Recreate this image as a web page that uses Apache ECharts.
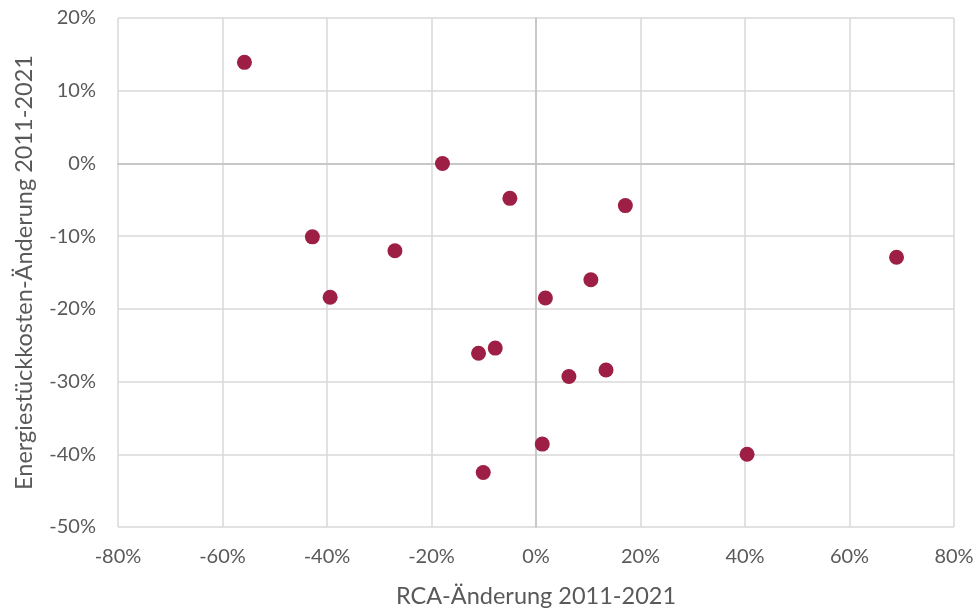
<!DOCTYPE html>
<html>
<head>
<meta charset="utf-8">
<script src="https://cdn.jsdelivr.net/npm/echarts@6/dist/echarts.min.js"></script>
<style>
  html, body { margin: 0; padding: 0; background: #fff; }
  #chart { width: 980px; height: 613px; }
</style>
</head>
<body>
<div id="chart"></div>
<script>
// RCA change 2011-2021 (x, %) vs. energy unit cost change 2011-2021 (y, %)
const rcaChange = [-55.8, -42.8, -39.4, -27.0, -17.9, -5.0, 17.1, 10.5, 1.8, -11.0, -7.8, 6.3, 13.4, 1.2, -10.1, 40.4, 69.0];
const energyCostChange = [13.9, -10.1, -18.4, -12.0, 0.0, -4.8, -5.8, -16.0, -18.5, -26.1, -25.4, -29.3, -28.4, -38.6, -42.5, -40.0, -12.9];

const xTitle = 'RCA-Änderung 2011-2021';
const yTitle = 'Energiestückkosten-Änderung 2011-2021';

const points = rcaChange.map((x, i) => [x, energyCostChange[i]]);

const font = 'Lato, "Open Sans", sans-serif';
const chart = echarts.init(document.getElementById('chart'), null, { renderer: 'canvas' });

chart.setOption({
  animation: false,
  backgroundColor: '#ffffff',
  grid: { left: 118, right: 26, top: 18, bottom: 85 },
  xAxis: {
    type: 'value',
    min: -80, max: 80, interval: 20,
    name: xTitle,
    nameLocation: 'middle',
    nameGap: 57,
    nameTextStyle: { color: '#595959', fontSize: 23.5, fontFamily: font },
    axisLine: { show: true, onZero: true, lineStyle: { color: '#bfbfbf', width: 1.5 } },
    axisTick: { show: false },
    axisLabel: { color: '#595959', fontSize: 20, fontFamily: font, margin: 20, formatter: v => v + '%' },
    splitLine: { show: true, lineStyle: { color: '#d9d9d9', width: 1.5 } }
  },
  yAxis: {
    type: 'value',
    min: -50, max: 20, interval: 10,
    name: yTitle,
    nameLocation: 'middle',
    nameGap: 82,
    nameTextStyle: { color: '#595959', fontSize: 23.5, fontFamily: font },
    axisLine: { show: true, onZero: true, lineStyle: { color: '#bfbfbf', width: 1.5 } },
    axisTick: { show: false },
    axisLabel: { color: '#595959', fontSize: 20, fontFamily: font, margin: 22, formatter: v => v + '%' },
    splitLine: { show: true, lineStyle: { color: '#d9d9d9', width: 1.5 } }
  },
  series: [{
    type: 'scatter',
    data: points,
    symbol: 'circle',
    symbolSize: 15,
    itemStyle: { color: '#9e1f45', opacity: 1 }
  }]
});
</script>
</body>
</html>
